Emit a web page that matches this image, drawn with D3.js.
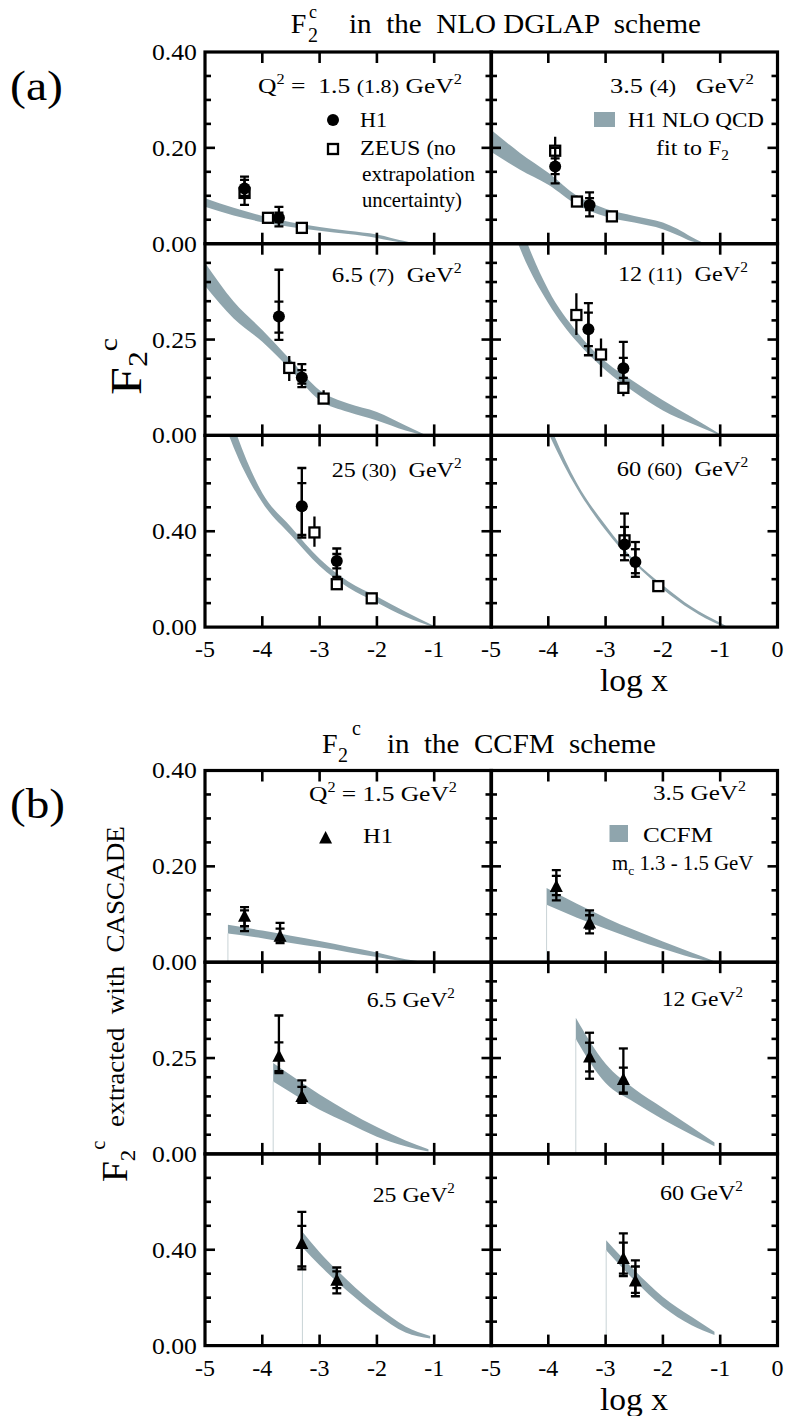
<!DOCTYPE html>
<html><head><meta charset="utf-8">
<script src="https://cdn.jsdelivr.net/npm/d3@7"></script>
<style>
body{margin:0;background:#fff}
svg{display:block}
text{font-family:"Liberation Serif",Tinos,"Times New Roman",Times,serif;fill:#000;white-space:pre}
</style>
</head><body>
<script>
// ---------------- DATA ----------------
const xTickVals = [-4, -3, -2, -1];
const xLabelsLeft = [-5, -4, -3, -2, -1];
const xLabelsRight = [-5, -4, -3, -2, -1, 0];
const rowMax = [0.4, 0.5, 0.8];
const rowStep = [0.05, 0.05, 0.1];
const rowMajor = [0.2, 0.25, 0.4];
const rowLabels = [[0.40, 0.20, 0.00], [0.25, 0.00], [0.40, 0.00]];

// (a) NLO DGLAP: H1 NLO QCD fit band  (log x, upper, lower)
const bandA1 = {x: [-5, -4.5, -4, -3.5, -3, -2.5, -2, -1.75, -1.5, -1.35],
  hi: [0.095, 0.075, 0.058, 0.045, 0.035, 0.027, 0.019, 0.012, 0.005, 0.001],
  lo: [0.077, 0.059, 0.045, 0.035, 0.027, 0.020, 0.012, 0.006, 0.001, 0]};
const bandA2 = {x: [-5, -4.5, -4, -3.5, -3, -2.5, -2, -1.75, -1.5, -1.3],
  hi: [0.238, 0.19, 0.148, 0.100, 0.073, 0.058, 0.044, 0.031, 0.014, 0.002],
  lo: [0.192, 0.155, 0.123, 0.081, 0.057, 0.044, 0.030, 0.018, 0.005, 0]};
const bandA3 = {x: [-5, -4.5, -4, -3.5, -3, -2.5, -2, -1.5, -1.15],
  hi: [0.45, 0.349, 0.275, 0.196, 0.118, 0.083, 0.061, 0.026, 0.001],
  lo: [0.39, 0.305, 0.244, 0.170, 0.092, 0.061, 0.039, 0.013, 0]};
const bandA4 = {x: [-5, -4.5, -4, -3.5, -3, -2.5, -2, -1.5, -1.0],
  hi: [0.85, 0.56, 0.38, 0.27, 0.192, 0.14, 0.092, 0.048, 0.003],
  lo: [0.72, 0.49, 0.345, 0.244, 0.17, 0.113, 0.065, 0.031, 0]};
const bandA5 = {x: [-5, -4.5, -4, -3.5, -3, -2.5, -2, -1.5, -1],
  hi: [1.25, 0.84, 0.56, 0.418, 0.285, 0.19, 0.128, 0.064, 0.005],
  lo: [1.1, 0.75, 0.52, 0.383, 0.255, 0.165, 0.103, 0.043, 0]};
const bandA6 = {x: [-4.5, -4, -3.5, -3, -2.5, -2, -1.5, -1, -0.9],
  hi: [1.2, 0.86, 0.6, 0.425, 0.279, 0.175, 0.085, 0.018, 0.005],
  lo: [1.1, 0.81, 0.578, 0.404, 0.267, 0.158, 0.071, 0.008, 0]};

// (a) H1 points: log x, value, stat [lo,hi], total [lo,hi]
const h1A1 = [{lx: -4.31, v: 0.115, st: [0.100, 0.133], to: [0.081, 0.140]},
              {lx: -3.71, v: 0.054, st: [0.045, 0.065], to: [0.036, 0.077]}];
const h1A2 = [{lx: -3.88, v: 0.161, st: [0.145, 0.178], to: [0.126, 0.200]},
              {lx: -3.28, v: 0.081, st: [0.070, 0.095], to: [0.057, 0.107]}];
const h1A3 = [{lx: -3.71, v: 0.310, st: [0.268, 0.349], to: [0.249, 0.432]},
              {lx: -3.31, v: 0.151, st: [0.135, 0.170], to: [0.126, 0.186]}];
const h1A4 = [{lx: -3.30, v: 0.277, st: [0.233, 0.320], to: [0.209, 0.345]},
              {lx: -2.69, v: 0.175, st: [0.150, 0.202], to: [0.135, 0.244]}];
const h1A5 = [{lx: -3.31, v: 0.504, st: [0.385, 0.601], to: [0.374, 0.664]},
              {lx: -2.70, v: 0.276, st: [0.245, 0.305], to: [0.210, 0.328]}];
const h1A6 = [{lx: -2.67, v: 0.345, st: [0.300, 0.418], to: [0.279, 0.474]},
              {lx: -2.48, v: 0.272, st: [0.225, 0.325], to: [0.210, 0.355]}];
// (a) ZEUS points: log x, value, error [lo,hi]
const zeusA1 = [{lx: -4.31, v: 0.106, e: [0.092, 0.122]}, {lx: -3.90, v: 0.054, e: [0.048, 0.060]},
                {lx: -3.31, v: 0.033, e: [0.028, 0.038]}];
const zeusA2 = [{lx: -3.88, v: 0.194, e: [0.175, 0.223]}, {lx: -3.50, v: 0.088, e: [0.078, 0.100]},
                {lx: -2.89, v: 0.057, e: [0.051, 0.064]}];
const zeusA3 = [{lx: -3.53, v: 0.176, e: [0.142, 0.207]}, {lx: -2.93, v: 0.096, e: [0.085, 0.118]}];
const zeusA4 = [{lx: -3.51, v: 0.314, e: [0.262, 0.371]}, {lx: -3.08, v: 0.211, e: [0.153, 0.253]},
                {lx: -2.69, v: 0.124, e: [0.102, 0.140]}];
const zeusA5 = [{lx: -3.09, v: 0.395, e: [0.335, 0.462]}, {lx: -2.70, v: 0.179, e: [0.160, 0.200]},
                {lx: -2.09, v: 0.120, e: [0.110, 0.130]}];
const zeusA6 = [{lx: -2.67, v: 0.362, e: [0.340, 0.390]}, {lx: -2.08, v: 0.171, e: [0.160, 0.182]}];

// (b) CCFM bands
const bandB1 = {x: [-4.6, -4, -3.5, -3, -2.5, -2, -1.5, -1.2],
  hi: [0.078, 0.066, 0.055, 0.044, 0.032, 0.020, 0.006, 0.001],
  lo: [0.060, 0.050, 0.040, 0.031, 0.021, 0.011, 0.002, 0]};
const bandB2 = {x: [-4.03, -3.5, -3, -2.5, -2, -1.5, -1.1],
  hi: [0.155, 0.122, 0.093, 0.067, 0.043, 0.020, 0.002],
  lo: [0.120, 0.093, 0.070, 0.048, 0.028, 0.010, 0]};
const bandB3 = {x: [-3.81, -3.5, -3, -2.5, -2, -1.5, -1.1],
  hi: [0.237, 0.205, 0.155, 0.110, 0.070, 0.035, 0.012],
  lo: [0.189, 0.160, 0.115, 0.080, 0.045, 0.020, 0.006]};
const bandB4 = {x: [-3.52, -3, -2.5, -2, -1.5, -1.1],
  hi: [0.355, 0.235, 0.170, 0.120, 0.070, 0.030],
  lo: [0.300, 0.185, 0.135, 0.090, 0.050, 0.020]};
const bandB5 = {x: [-3.3, -3, -2.5, -2, -1.5, -1.07],
  hi: [0.475, 0.390, 0.270, 0.165, 0.080, 0.040],
  lo: [0.410, 0.335, 0.225, 0.130, 0.055, 0.030]};
const bandB6 = {x: [-2.99, -2.5, -2, -1.5, -1.1],
  hi: [0.440, 0.315, 0.203, 0.120, 0.058],
  lo: [0.398, 0.273, 0.162, 0.085, 0.044]};

// (b) H1 points
const h1B1 = [{lx: -4.31, v: 0.096, st: [0.075, 0.108], to: [0.065, 0.115]},
              {lx: -3.69, v: 0.054, st: [0.045, 0.070], to: [0.040, 0.082]}];
const h1B2 = [{lx: -3.86, v: 0.158, st: [0.140, 0.180], to: [0.129, 0.192]},
              {lx: -3.28, v: 0.082, st: [0.070, 0.098], to: [0.060, 0.108]}];
const h1B3 = [{lx: -3.71, v: 0.255, st: [0.216, 0.291], to: [0.211, 0.361]},
              {lx: -3.31, v: 0.150, st: [0.138, 0.175], to: [0.133, 0.192]}];
const h1B4 = [{lx: -3.28, v: 0.253, st: [0.215, 0.290], to: [0.196, 0.316]},
              {lx: -2.69, v: 0.194, st: [0.160, 0.225], to: [0.157, 0.275]}];
const h1B5 = [{lx: -3.31, v: 0.426, st: [0.330, 0.500], to: [0.318, 0.558]},
              {lx: -2.70, v: 0.273, st: [0.240, 0.310], to: [0.218, 0.326]}];
const h1B6 = [{lx: -2.69, v: 0.363, st: [0.300, 0.430], to: [0.290, 0.468]},
              {lx: -2.48, v: 0.270, st: [0.220, 0.330], to: [0.206, 0.356]}];

// ---------------- LAYOUT ----------------
const W = 787, H = 1416;
const BAND = "#8fa5ad";
const FONT = "'Liberation Serif', Tinos, 'Times New Roman', Times, serif";
const colX = [205, 491], PW = 286.5, rowH = 191.7;
const partTop = {a: 52, b: 770.5};

const svg = d3.select("body").append("svg").attr("width", W).attr("height", H)
  .attr("font-family", FONT);
const defs = svg.append("defs");
const gData = svg.append("g");
const gAxes = svg.append("g");

const panels = [
  {p: "a", r: 0, c: 0, band: bandA1, h1: h1A1, zeus: zeusA1},
  {p: "a", r: 0, c: 1, band: bandA2, h1: h1A2, zeus: zeusA2},
  {p: "a", r: 1, c: 0, band: bandA3, h1: h1A3, zeus: zeusA3},
  {p: "a", r: 1, c: 1, band: bandA4, h1: h1A4, zeus: zeusA4},
  {p: "a", r: 2, c: 0, band: bandA5, h1: h1A5, zeus: zeusA5},
  {p: "a", r: 2, c: 1, band: bandA6, h1: h1A6, zeus: zeusA6},
  {p: "b", r: 0, c: 0, band: bandB1, h1: h1B1, tri: true},
  {p: "b", r: 0, c: 1, band: bandB2, h1: h1B2, tri: true},
  {p: "b", r: 1, c: 0, band: bandB3, h1: h1B3, tri: true},
  {p: "b", r: 1, c: 1, band: bandB4, h1: h1B4, tri: true},
  {p: "b", r: 2, c: 0, band: bandB5, h1: h1B5, tri: true},
  {p: "b", r: 2, c: 1, band: bandB6, h1: h1B6, tri: true}
];

// ---------------- TEXT HELPERS ----------------
function rich(parent, yb, size, parts) {
  const t = parent.append("text").attr("x", 0).attr("y", yb).attr("font-size", size).attr("font-family", FONT);
  let off = 0;
  parts.forEach(p => {
    const o = p.o || 0;
    const ts = t.append("tspan").text(p.t).attr("dy", o - off);
    if (p.fs) ts.attr("font-size", p.fs);
    if (p.dx) ts.attr("dx", p.dx);
    off = o;
  });
  return t;
}
function fit(t, x0, x1) {
  const bb = t.node().getBBox();
  const s = (x1 - x0) / bb.width;
  t.attr("transform", `translate(${x0},0) scale(${s},1) translate(${-bb.x},0)`);
  return t;
}
function label(x0, x1, yb, size, parts, parent) {
  return fit(rich(parent || svg, yb, size, parts), x0, x1);
}
const sup = s => ({t: s, fs: 14, o: -9});
// absolute-positioned multi-piece text (one element)
function pieces(parent, size, list) {
  const t = parent.append("text").attr("font-size", size).attr("font-family", FONT);
  list.forEach(p => {
    const ts = t.append("tspan").attr("x", p.x).attr("y", p.y).text(p.t);
    if (p.fs) ts.attr("font-size", p.fs);
  });
  return t;
}

function errBar(g, x, y, lx, lo, hi, caps) {
  g.append("line").attr("x1", x(lx)).attr("x2", x(lx)).attr("y1", y(lo)).attr("y2", y(hi))
    .attr("stroke", "#000").attr("stroke-width", 2.3);
  if (caps) [lo, hi].forEach(v => g.append("line")
    .attr("x1", x(lx) - 4.5).attr("x2", x(lx) + 4.5).attr("y1", y(v)).attr("y2", y(v))
    .attr("stroke", "#000").attr("stroke-width", 2.3));
}

panels.forEach((P, i) => {
  const x0 = colX[P.c];
  const top = partTop[P.p] + P.r * rowH;
  const x = d3.scaleLinear().domain([-5, 0]).range([x0, x0 + PW]);
  const y = d3.scaleLinear().domain([0, rowMax[P.r]]).range([top + rowH, top]);
  const cid = "clip" + i;
  defs.append("clipPath").attr("id", cid).append("rect")
    .attr("x", x0).attr("y", top).attr("width", PW).attr("height", rowH);
  const g = gData.append("g").attr("clip-path", `url(#${cid})`);
  const bd = P.band.x.map((lx, k) => ({lx, hi: P.band.hi[k], lo: P.band.lo[k]}));
  const area = d3.area().x(d => x(d.lx)).y0(d => y(d.lo)).y1(d => y(d.hi)).curve(d3.curveMonotoneX);
  g.append("path").datum(bd).attr("d", area).attr("fill", BAND);
  if (P.p === "b") {
    g.append("line").attr("x1", x(bd[0].lx)).attr("x2", x(bd[0].lx))
      .attr("y1", y(bd[0].lo)).attr("y2", y(0)).attr("stroke", "#c9d3d6").attr("stroke-width", 1);
  }
  if (P.zeus) P.zeus.forEach(d => {
    errBar(g, x, y, d.lx, d.e[0], d.e[1], false);
    g.append("rect").attr("x", x(d.lx) - 5).attr("y", y(d.v) - 5).attr("width", 10).attr("height", 10)
      .attr("fill", "#fff").attr("stroke", "#000").attr("stroke-width", 2.3);
  });
  P.h1.forEach(d => {
    errBar(g, x, y, d.lx, d.to[0], d.to[1], true);
    errBar(g, x, y, d.lx, d.st[0], d.st[1], true);
    if (P.tri) {
      const cx = x(d.lx), cy = y(d.v);
      g.append("path").attr("d", `M${cx},${cy - 7}L${cx + 6.5},${cy + 5.5}L${cx - 6.5},${cy + 5.5}Z`).attr("fill", "#000");
    } else {
      g.append("circle").attr("cx", x(d.lx)).attr("cy", y(d.v)).attr("r", 6).attr("fill", "#000");
    }
  });

  // frame and ticks
  const ga = gAxes.append("g").attr("stroke", "#000");
  ga.append("rect").attr("x", x0).attr("y", top).attr("width", PW).attr("height", rowH)
    .attr("fill", "none").attr("stroke-width", 3.2);
  const ticks = d3.range(rowStep[P.r], rowMax[P.r] - 1e-9, rowStep[P.r]);
  ticks.forEach(v => {
    const len = Math.abs(v - rowMajor[P.r]) < 1e-9 ? 10 : 6;
    ga.append("line").attr("x1", x0).attr("x2", x0 + len).attr("y1", y(v)).attr("y2", y(v)).attr("stroke-width", 2.6);
    ga.append("line").attr("x1", x0 + PW).attr("x2", x0 + PW - len).attr("y1", y(v)).attr("y2", y(v)).attr("stroke-width", 2.6);
  });
  xTickVals.forEach(t => {
    ga.append("line").attr("x1", x(t)).attr("x2", x(t)).attr("y1", top).attr("y2", top + 11).attr("stroke-width", 2.6);
    ga.append("line").attr("x1", x(t)).attr("x2", x(t)).attr("y1", top + rowH).attr("y2", top + rowH - 11).attr("stroke-width", 2.6);
  });

  // y tick labels (left column)
  if (P.c === 0) {
    rowLabels[P.r].forEach(v => {
      label(152, 197, y(v) + 8, 23, [{t: v.toFixed(2)}]);
    });
  }
  // x tick labels (bottom row)
  if (P.r === 2) {
    (P.c === 0 ? xLabelsLeft : xLabelsRight).forEach(v => {
      svg.append("text").attr("x", x(v)).attr("y", top + rowH + 30).attr("font-size", 24)
        .attr("font-family", FONT).attr("text-anchor", "middle").text(String(v));
    });
  }
});

// ---------------- TITLES ----------------
pieces(svg, 28, [{t: "F", x: 290.7, y: 33}, {t: "c", x: 309, y: 18, fs: 18}, {t: "2", x: 308, y: 42, fs: 20}]);
label(349, 701, 33, 28, [{t: "in  the  NLO DGLAP  scheme"}]);

pieces(svg, 28, [{t: "F", x: 322, y: 753}, {t: "2", x: 338, y: 762, fs: 20}, {t: "c", x: 352, y: 735, fs: 20}]);
label(387, 656, 753, 28, [{t: "in  the  CCFM  scheme"}]);

label(10, 63, 100, 42, [{t: "(a)"}]);
label(10, 65, 818, 42, [{t: "(b)"}]);

// axis titles
label(600, 668, 691, 32, [{t: "log x"}]);
label(600, 668, 1410, 32, [{t: "log x"}]);

// rotated y labels
{
  const g = svg.append("g").attr("transform", "translate(141,0) rotate(-90)");
  label(-395, -338, 0, 44, [{t: "F"}, {t: "2", fs: 28, o: 6}, {t: "c", fs: 26, o: -24}], g);
}
{
  const g = svg.append("g").attr("transform", "translate(127,0) rotate(-90)");
  label(-1182, -826, 0, 26, [{t: "F", fs: 36}, {t: "2", fs: 22, o: 8}, {t: "c", fs: 20, o: -22},
    {t: "  extracted  with  CASCADE", o: -3}], g);
}

// ---------------- ANNOTATIONS (a) ----------------
label(258, 462, 93, 22, [{t: "Q"}, sup("2"), {t: " =  1.5 "}, {t: "(1.8)", fs: 19}, {t: " GeV"}, sup("2")]);
svg.append("circle").attr("cx", 333).attr("cy", 120).attr("r", 6).attr("fill", "#000");
label(360, 387, 127, 22, [{t: "H1"}]);
svg.append("rect").attr("x", 328).attr("y", 144).attr("width", 10).attr("height", 10)
  .attr("fill", "#fff").attr("stroke", "#000").attr("stroke-width", 2.3);
label(360, 455.7, 155, 22, [{t: "ZEUS "}, {t: "(no", fs: 20}]);
label(362, 475, 181, 22, [{t: "extrapolation", fs: 20}]);
label(362, 462, 207, 22, [{t: "uncertainty)", fs: 20}]);

label(610, 754, 93, 22, [{t: "3.5 "}, {t: "(4)", fs: 19}, {t: "   GeV"}, sup("2")]);
svg.append("rect").attr("x", 594).attr("y", 112).attr("width", 21).attr("height", 15).attr("fill", BAND);
label(628, 764, 127, 22, [{t: "H1 NLO QCD"}]);
label(656, 729, 155, 22, [{t: "fit to F"}, {t: "2", fs: 14, o: 5}]);

label(331.7, 461.7, 281.7, 22, [{t: "6.5 "}, {t: "(7)", fs: 19}, {t: "  GeV"}, sup("2")]);
label(618, 748, 281, 22, [{t: "12 "}, {t: "(11)", fs: 19}, {t: "  GeV"}, sup("2")]);
label(331.7, 461.7, 476.7, 22, [{t: "25 "}, {t: "(30)", fs: 19}, {t: "  GeV"}, sup("2")]);
label(616.7, 748.3, 476, 22, [{t: "60 "}, {t: "(60)", fs: 19}, {t: "  GeV"}, sup("2")]);

// ---------------- ANNOTATIONS (b) ----------------
label(309, 457, 800.7, 22, [{t: "Q"}, sup("2"), {t: " = 1.5 GeV"}, sup("2")]);
svg.append("path").attr("d", "M325.6,831L332.1,843.5L319.1,843.5Z").attr("fill", "#000");
label(363, 393, 842.7, 22, [{t: "H1"}]);
label(653, 746, 800, 22, [{t: "3.5 GeV"}, sup("2")]);
svg.append("rect").attr("x", 609.5).attr("y", 825).attr("width", 18.5).attr("height", 17).attr("fill", BAND);
label(643, 713, 842, 22, [{t: "CCFM"}]);
label(612, 754, 870, 20, [{t: "m"}, {t: "c", fs: 13, o: 5}, {t: " 1.3 - 1.5 GeV", o: 0}]);
label(366.7, 455, 1006.7, 22, [{t: "6.5 GeV"}, sup("2")]);
label(661.7, 743, 1006, 22, [{t: "12 GeV"}, sup("2")]);
label(372.7, 455, 1201.7, 22, [{t: "25 GeV"}, sup("2")]);
label(660, 743, 1200, 22, [{t: "60 GeV"}, sup("2")]);
</script>
</body></html>
